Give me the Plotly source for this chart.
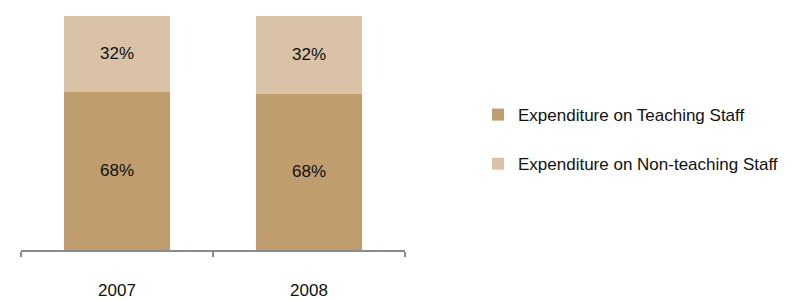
import plotly.graph_objects as go

years = ["2007", "2008"]
teaching = [67.7, 66.8]
non_teaching = [32.3, 33.2]
teaching_labels = ["68%", "68%"]
non_teaching_labels = ["32%", "32%"]
series_names = ["Expenditure on Teaching Staff", "Expenditure on Non-teaching Staff"]
colors = ["#BF9D6E", "#D9C2A5"]

FONT = "Liberation Sans, Arial, sans-serif"

fig = go.Figure()
fig.add_trace(go.Bar(
    x=years, y=teaching, name=series_names[0], marker=dict(color=colors[0], line=dict(width=0)),
    text=teaching_labels, textposition="inside", insidetextanchor="middle",
    textfont=dict(size=17, color="#111111", family=FONT), legendgroup="a",
))
fig.add_trace(go.Bar(
    x=years, y=non_teaching, name=series_names[1], marker=dict(color=colors[1], line=dict(width=0)),
    text=non_teaching_labels, textposition="inside", insidetextanchor="middle",
    textfont=dict(size=17, color="#111111", family=FONT), legendgroup="b",
))

fig.update_layout(
    width=798, height=300,
    margin=dict(l=13, r=401, t=8, b=48.5),
    barmode="stack", bargap=0.448,
    plot_bgcolor="white", paper_bgcolor="white",
    font=dict(family=FONT, size=17, color="#111111"),
    uniformtext=dict(minsize=17, mode="show"),
    showlegend=True,
    legend=dict(
        x=(470 - 13) / 384, xanchor="left",
        y=0.472, yanchor="middle",
        traceorder="grouped", tracegroupgap=24,
        font=dict(size=17, family=FONT, color="#111111"),
        bgcolor="rgba(0,0,0,0)",
        itemclick=False,
    ),
    xaxis=dict(
        type="category", range=[-0.5, 1.5],
        showline=True, linecolor="#8A8A8A", linewidth=1.5,
        ticks="outside", tickson="boundaries", ticklen=5, tickwidth=1.5, tickcolor="#8A8A8A",
        ticklabelstandoff=24, showgrid=False, zeroline=False,
        tickfont=dict(size=17, family=FONT, color="#111111"),
    ),
    yaxis=dict(range=[0, 100], visible=False, showgrid=False, zeroline=False),
)

fig.write_html("out.html")
